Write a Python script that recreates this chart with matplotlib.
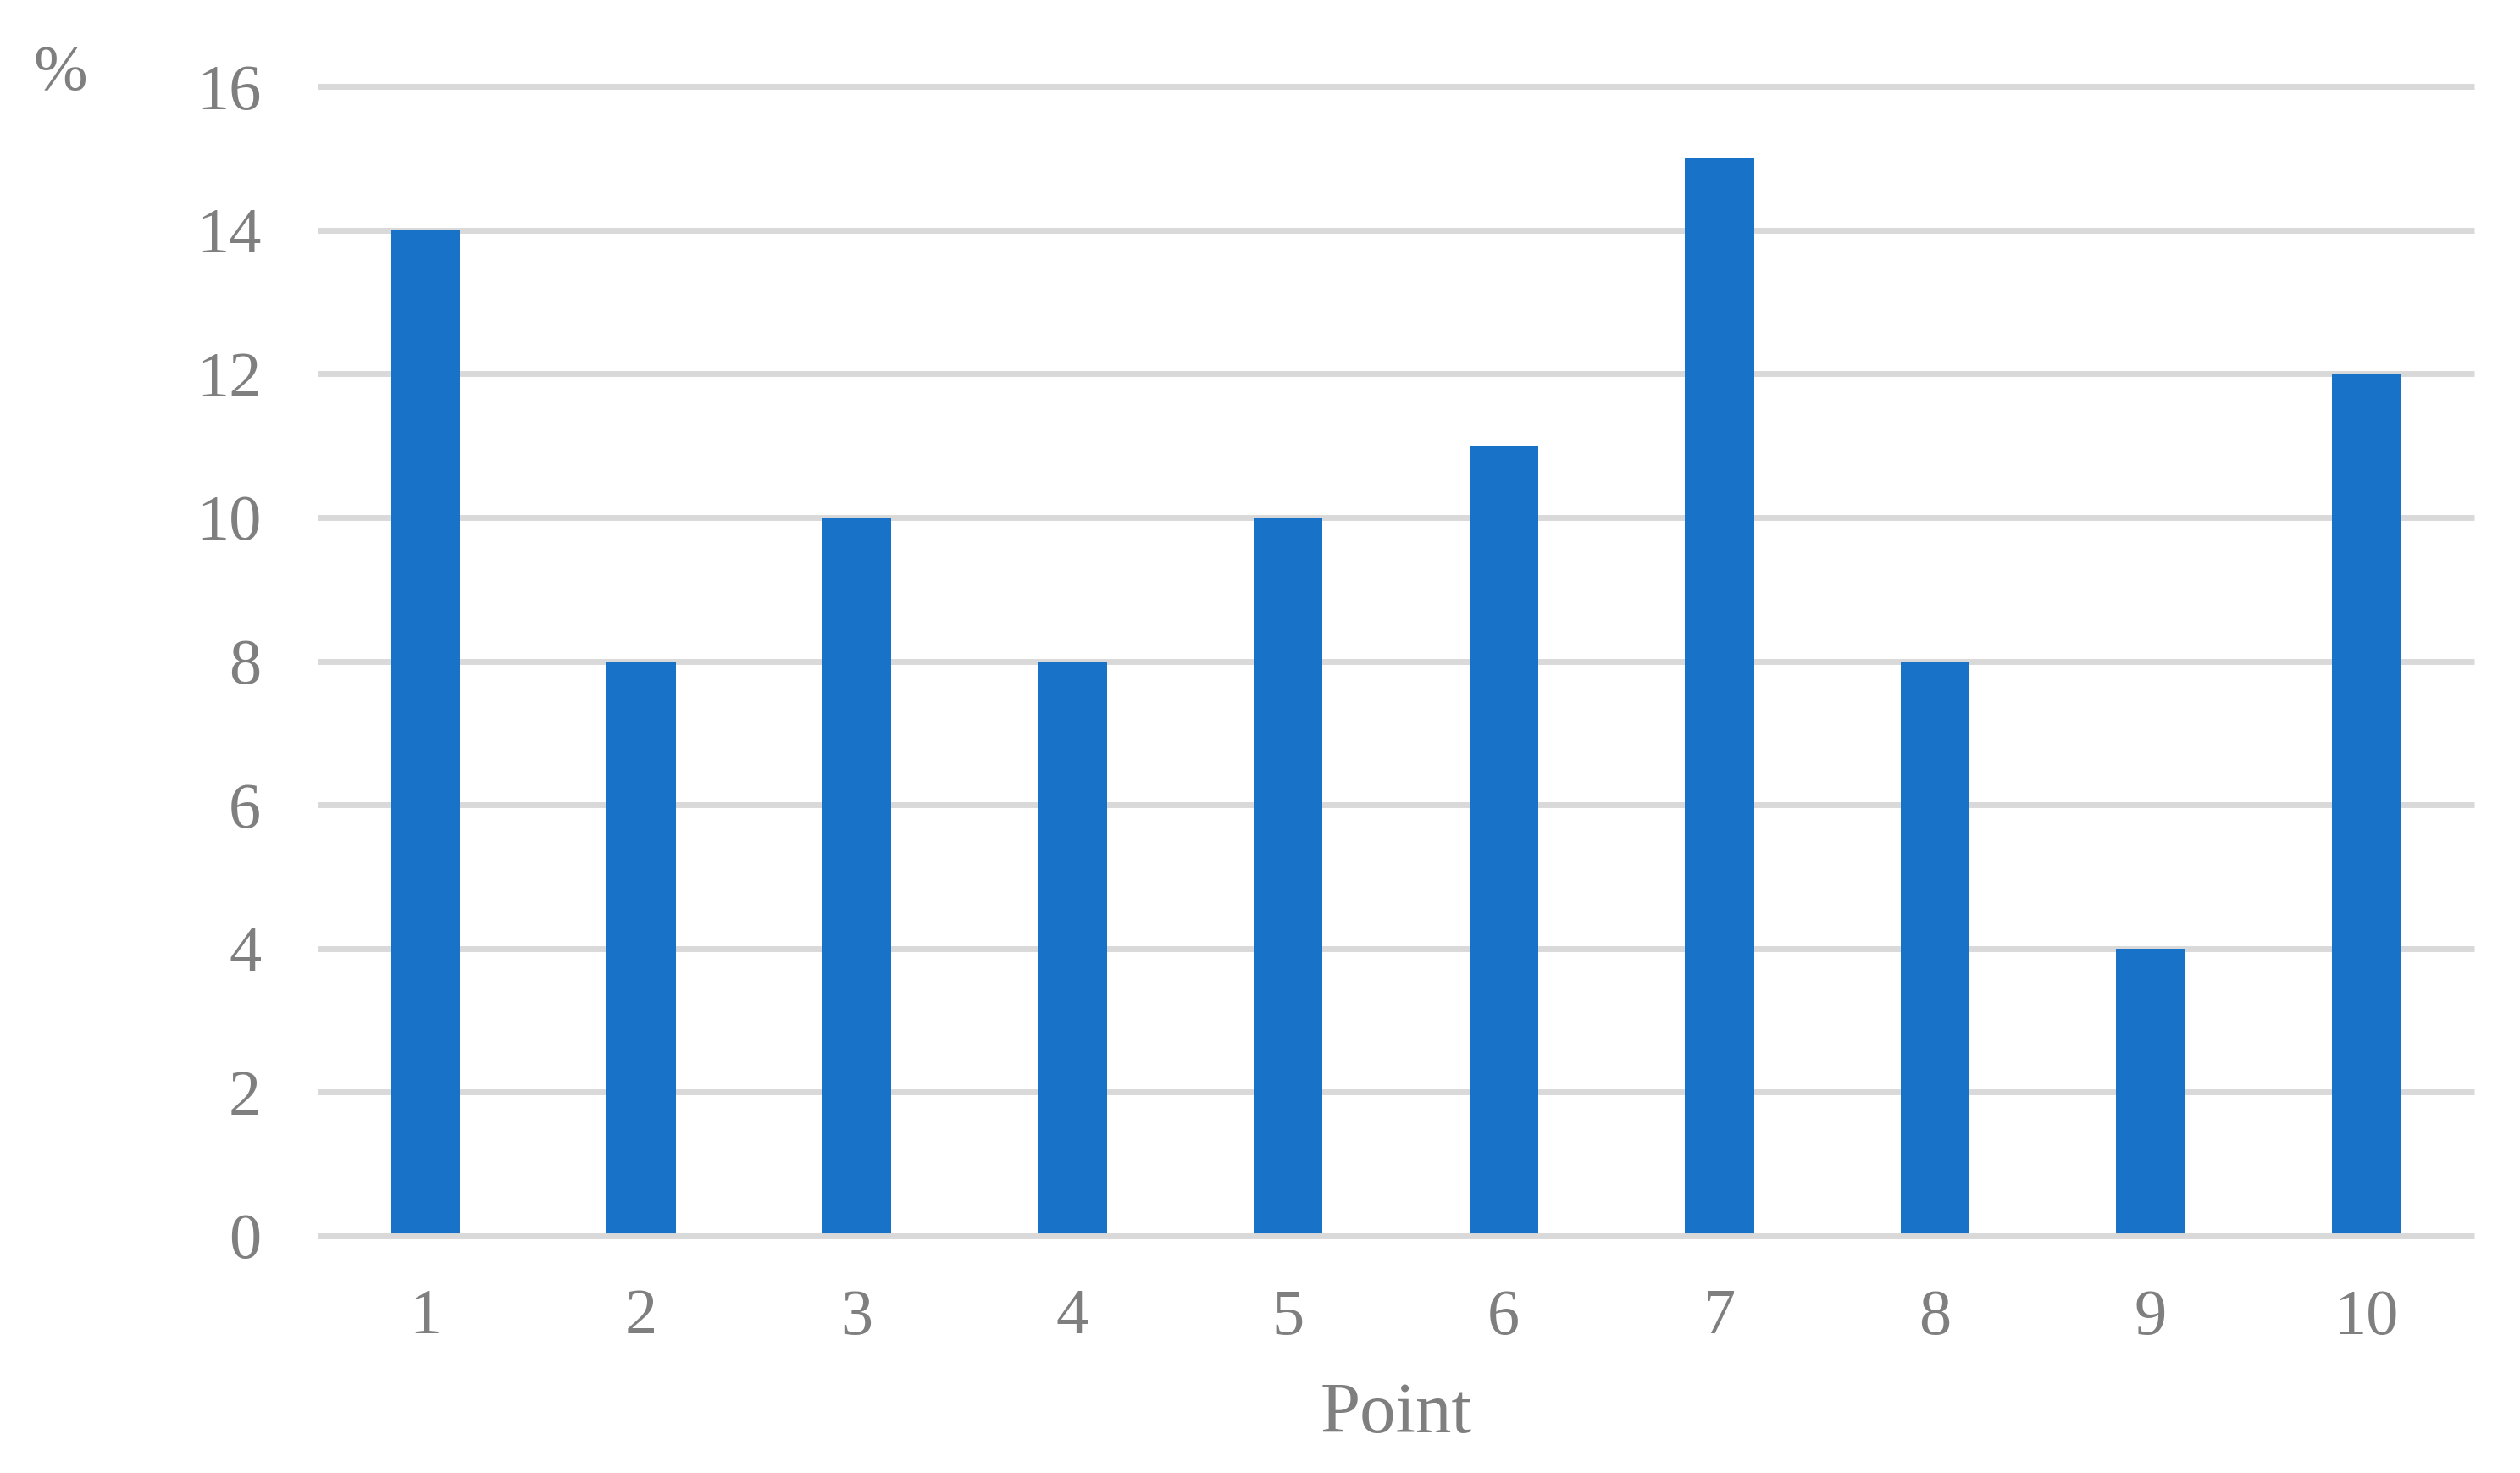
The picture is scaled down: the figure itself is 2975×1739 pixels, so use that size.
import matplotlib.pyplot as plt
import numpy as np

# data
points = ["1", "2", "3", "4", "5", "6", "7", "8", "9", "10"]
values = [14, 8, 10, 8, 10, 11, 15, 8, 4, 12]
yticks = [0, 2, 4, 6, 8, 10, 12, 14, 16]

W, H = 2975, 1739
fig = plt.figure(figsize=(W / 100, H / 100), dpi=100)
ax = fig.add_axes([375 / W, 1 - 1459 / H, (2921 - 375) / W, (1459 - 102) / H])

plt.rcParams['font.family'] = ['Liberation Serif', 'DejaVu Serif']
txt = '#7F7F7F'
grid = '#D9D9D9'

x = np.arange(len(points))
ax.bar(x, values, width=0.32, color='#1873C8', zorder=3)

ax.set_xlim(-0.5, len(points) - 0.5)
ax.set_ylim(0, 16)
ax.set_yticks(yticks)
ax.set_xticks(x)
ax.set_xticklabels(points)
for y in yticks:
    # the baseline sits on top of the bars, not clipped
    ax.axhline(y, color=grid, lw=5, zorder=4 if y == 0 else 1,
               clip_on=False, solid_capstyle='butt')

for s in ax.spines.values():
    s.set_visible(False)
ax.tick_params(axis='both', length=0, labelsize=55, labelcolor=txt)
ax.tick_params(axis='y', pad=48)
ax.tick_params(axis='x', pad=45)
for lab in ax.get_xticklabels() + ax.get_yticklabels():
    lab.set_family(['Liberation Serif'])

fig.text(1648 / W, 1 - 1691 / H, 'Point', ha='center', va='baseline',
         fontsize=61, color=txt, family=['Liberation Serif'])
fig.text(71 / W, 1 - 106 / H, '%', ha='center', va='baseline',
         fontsize=55, color=txt, family=['Liberation Serif'])

fig.savefig('out.png', dpi=100, facecolor='white')
